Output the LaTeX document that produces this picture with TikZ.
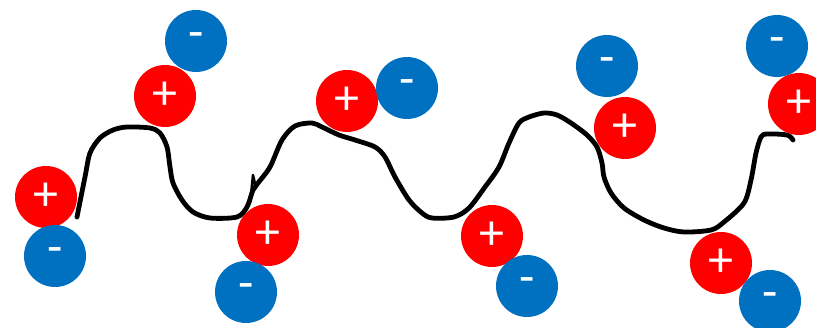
\documentclass[tikz,border=0pt]{standalone}
\usepackage{fontspec}
\setmainfont{Carlito}
\usetikzlibrary{positioning}
\definecolor{chargered}{RGB}{255,0,0}
\definecolor{chargeblue}{RGB}{0,112,192}
\tikzset{
  charge/.style={circle, minimum size=62pt, inner sep=0pt, text=white, font=\fontsize{50}{50}\selectfont},
  pluscharge/.style={charge, fill=chargered},
  minuscharge/.style={charge, fill=chargeblue},
  chain/.style={line width=4.8pt, line cap=round, line join=round}
}
\begin{document}
\begin{tikzpicture}[x=1pt, y=-1pt]
  \useasboundingbox (0,0) rectangle (816,328);
  % Chain
  \draw[chain] plot[smooth, tension=0.5] coordinates {(77,217) (85,177) (90,153) (100,138) (113,130) (127,127) (150,128) (160,133) (167,147) (170,167) (173,183) (182,200) (193,212) (210,218) (237,217) (247,207) (253,190) (258,183) (270,167) (282,140) (295,126) (312,123) (322,127) (339,135) (355,140) (375,147) (385,157) (395,177) (409,200) (422,213) (432,218) (454,217) (469,208) (485,187) (499,167) (509,143) (519,123) (529,117) (544,113) (557,115) (571,123) (587,135) (597,147) (602,163) (604,177) (611,193) (624,208) (644,220) (664,228) (684,232) (711,230) (724,222) (744,203) (751,180) (756,153) (761,137) (767,134) (787,135) (793,140)};
  \draw[chain, line width=2.5pt] (251,195) -- (253,175) -- (256,188);
  % Charges
  \node[minuscharge] (m1) at (196,41) {-};
  \node[pluscharge] (p1) at (165,96) {+};
  \node[pluscharge] (p2) at (46,197) {+};
  \node[minuscharge] (m2) at (55,256) {-};
  \node[pluscharge] (p3) at (268,235) {+};
  \node[minuscharge] (m3) at (246,292) {-};
  \node[pluscharge] (p4) at (347,101) {+};
  \node[minuscharge] (m4) at (407,88) {-};
  \node[pluscharge] (p5) at (492,236) {+};
  \node[minuscharge] (m5) at (527,286) {-};
  \node[minuscharge] (m6) at (607,66) {-};
  \node[pluscharge] (p6) at (625,128) {+};
  \node[minuscharge] (m7) at (777,46) {-};
  \node[pluscharge] (p7) at (799,104) {+};
  \node[pluscharge] (p8) at (721,263) {+};
  \node[minuscharge] (m8) at (770,301) {-};
\end{tikzpicture}
\end{document}
